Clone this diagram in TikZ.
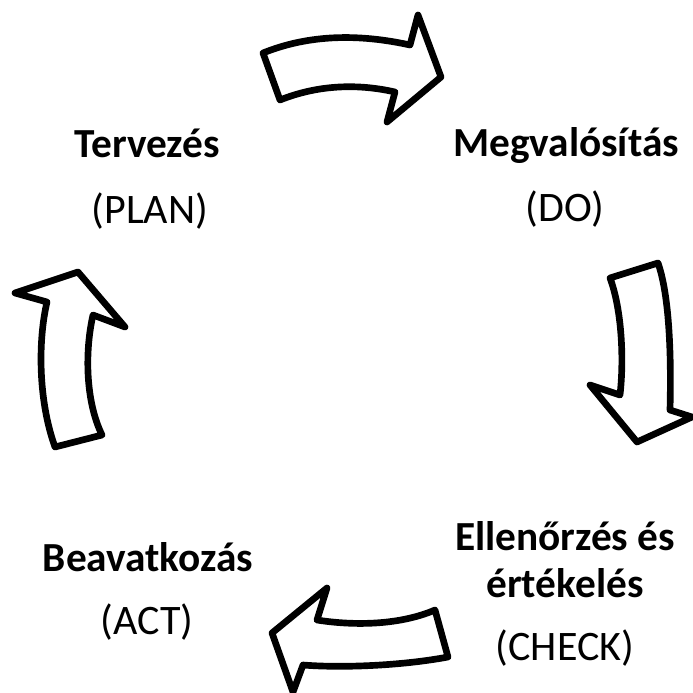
\documentclass[tikz,border=0pt]{standalone}
\usepackage{fontspec}
\setmainfont{Carlito}
\usetikzlibrary{positioning}

\tikzset{
  cyclearrow/.style={draw=black, line width=5pt, fill=white, line join=round},
  phase/.style={anchor=base, inner sep=0pt, font=\fontsize{31}{37}\selectfont\bfseries},
  phasetag/.style={anchor=base, inner sep=0pt, font=\fontsize{31.5}{37}\selectfont}
}

\begin{document}
\begin{tikzpicture}[x=0.75pt, y=-0.75pt]
            \useasboundingbox (0,0) rectangle (693,693);

            % Arrows of the cycle
            \draw[cyclearrow] (263,53) -- (280,100) .. controls (320,84) and (360,84) .. (395,92)
                -- (387,122) -- (441,77) -- (418,15) -- (410,45)
                .. controls (360,34) and (310,34) .. cycle;
            \draw[cyclearrow] (610,278) -- (658,263) .. controls (671,300) and (671,370) .. (670,410)
                -- (692,417) -- (637,442) -- (590,385) -- (620,395)
                .. controls (624,360) and (622,310) .. cycle;
            \draw[cyclearrow] (435,610) -- (448,657) .. controls (400,666) and (340,668) .. (303,665)
                -- (293,692) -- (272,633) -- (327,588) -- (317,620)
                .. controls (355,626) and (400,625) .. cycle;
            \draw[cyclearrow] (55,447) -- (102,435) .. controls (85,400) and (85,350) .. (93,315)
                -- (125,327) -- (78,272) -- (15,293) -- (47,302)
                .. controls (38,340) and (38,400) .. cycle;

            % Phases
            \node[phase] (plan) at (147,157) {Tervezés};
            \node[phasetag] (plantag) at (150,223) {(PLAN)};

            \node[phase] (do) at (566,156) {Megvalósítás};
            \node[phasetag] (dotag) at (565,221) {(DO)};

            \node[phase] (checka) at (565,550) {Ellenőrzés és};
            \node[phase] (checkb) at (565,597) {értékelés};
            \node[phasetag] (checktag) at (565,660) {(CHECK)};

            \node[phase] (act) at (148,571) {Beavatkozás};
            \node[phasetag] (acttag) at (147,634) {(ACT)};
\end{tikzpicture}
\end{document}
